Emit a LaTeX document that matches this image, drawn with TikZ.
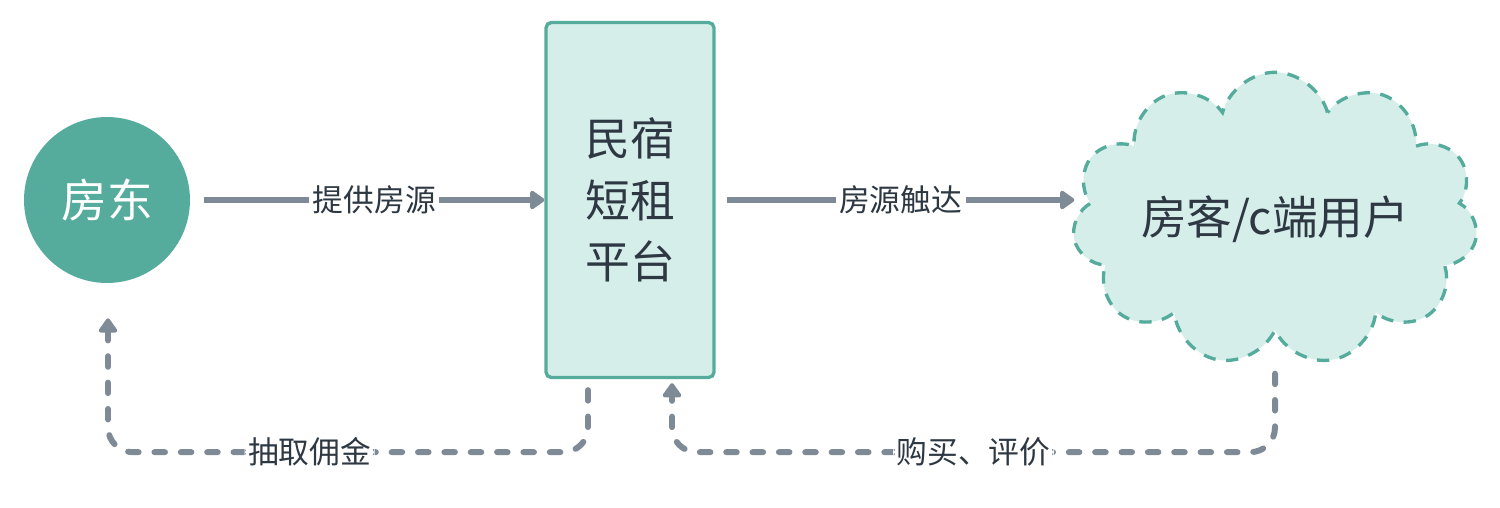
\documentclass[tikz,border=0pt]{standalone}
\usepackage{fontspec}
\setmainfont{Noto Sans CJK SC}
\usetikzlibrary{arrows.meta,shapes.symbols,calc}
\definecolor{teal1}{HTML}{55AC9C}
\definecolor{mint}{HTML}{D5EEEA}
\definecolor{slate}{HTML}{7F8A97}
\definecolor{ink}{HTML}{2E3843}
\tikzset{
    flow/.style={line width=3.4pt,slate,-{Triangle[length=9pt,width=12pt,round]}},
    back/.style={flow,dash pattern=on 6pt off 9pt,line cap=round,rounded corners=14pt},
    lbl/.style={fill=white,text=ink,font=\fontsize{17.5}{20}\selectfont,inner sep=2pt}
}

\begin{document}
\begin{tikzpicture}[x=0.02cm,y=-0.02cm]
\useasboundingbox (0,0) rectangle (1500,507);
\node[circle,fill=teal1,minimum size=3.32cm,text=white,font=\fontsize{26}{30}\selectfont] (host) at (107,200) {房东};
\node[draw=teal1,fill=mint,line width=1.9pt,rounded corners=3pt,minimum width=3.36cm,minimum height=7.1cm,align=center,text=ink,font=\fontsize{25.5}{35}\selectfont] (plat) at (630,200) {民宿\\短租\\平台};
\node[cloud,cloud puffs=11,cloud ignores aspect,draw=teal1,fill=mint,line width=1.9pt,dash pattern=on 7pt off 6pt,minimum width=8.11cm,minimum height=5.87cm,text=ink,font=\fontsize{26}{30}\selectfont] (guest) at (1275,219) {房客/c端用户};
\draw[flow] ($(host.east)+(14,0)$) -- node[lbl]{提供房源} (plat.west);
\draw[flow] ($(plat.east)+(11,0)$) -- node[lbl]{房源触达} (plat.east -| guest.west);
\draw[back] ($(plat.south)+(-42,11)$) -- ++(0,62) -| node[lbl,pos=0.29]{抽取佣金} ($(host.south)+(1,35)$);
\draw[back] ($(guest.south)+(0,40)$) |- node[lbl,pos=0.75]{购买、评价} ($(plat.south)+(42,73)$) -- ($(plat.south)+(42,4)$);
\end{tikzpicture}
\end{document}
